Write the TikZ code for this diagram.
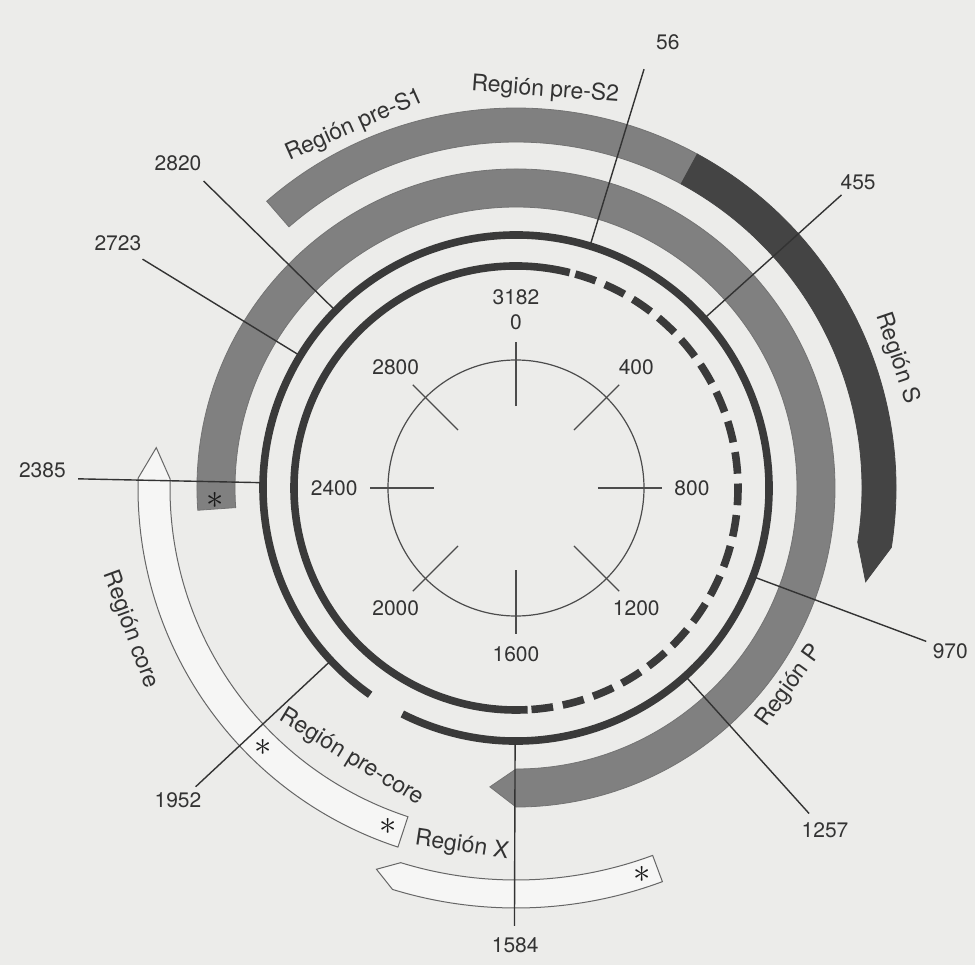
\documentclass[tikz,border=0pt]{standalone}
\usepackage{fontspec}
\setmainfont{TeX Gyre Heros}
\begin{document}
\begin{tikzpicture}[
    font=\fontsize{10.5}{12.5}\selectfont,
    strand/.style={line width=3.8pt,draw=strandline},
    thinring/.style={line width=0.6pt,draw=black!70},
    grayband/.style={fill=bandgray,draw=black!55,line width=0.4pt},
    darkband/.style={fill=banddark,draw=banddark,line width=0.4pt},
    openband/.style={fill=openfill,draw=black!60,line width=0.5pt},
    posline/.style={line width=0.7pt,draw=black!80},
    poslbl/.style={text=black!80,inner sep=1pt},
    ticklbl/.style={text=black!80,inner sep=1pt,align=center},
    reglbl/.style={text=black!80,inner sep=1pt,font=\fontsize{11.5}{13}\selectfont},
    astk/.style={font=\fontsize{18}{18}\selectfont,inner sep=0pt,text=black!90},
]
\definecolor{paper}{RGB}{236,236,234}   \definecolor{openfill}{RGB}{246,246,245}
\definecolor{bandgray}{RGB}{128,128,128} \definecolor{banddark}{RGB}{68,68,68}
\definecolor{strandline}{RGB}{58,58,58}

% page: centre of the rings is the origin, 1px of the scan = 0.5pt
\fill[paper] (-258pt,-238.5pt) rectangle (229.5pt,244pt);
\useasboundingbox (-258pt,-238.5pt) rectangle (229.5pt,244pt);

% ================= coding regions =================
% P: square start at the left, point at the bottom
\filldraw[grayband] (184:159.5pt) arc[start angle=184,end angle=-90,radius=159.5pt]
    -- (-95:150pt) -- (-90:140.5pt) arc[start angle=-90,end angle=184,radius=140.5pt] -- cycle;
% pre-S1 / pre-S2 (light) then S (dark, pointed)
\filldraw[grayband] (131:190pt) arc[start angle=131,end angle=61.5,radius=190pt]
    -- (61.5:173pt) arc[start angle=61.5,end angle=131,radius=173pt] -- cycle;
\filldraw[darkband] (61.5:190pt) arc[start angle=61.5,end angle=-9,radius=190pt]
    -- (-15:181pt) -- (-9:173pt) arc[start angle=-9,end angle=61.5,radius=173pt] -- cycle;
% pre-core / core
\filldraw[openband] (178.5:189pt) arc[start angle=178.5,end angle=251.8,radius=189pt]
    -- (251.8:173pt) arc[start angle=251.8,end angle=178.5,radius=173pt] -- (173.6:181pt) -- cycle;
% X
\filldraw[openband] (252.9:210pt) arc[start angle=252.9,end angle=290.4,radius=210pt]
    -- (290.4:196pt) arc[start angle=290.4,end angle=252.9,radius=196pt] -- (249.9:203pt) -- cycle;

% ================= the two strands =================
\draw[strand] (243.3:126.5pt) arc[start angle=243.3,end angle=594.8,radius=126.5pt];
\draw[strand] (76:111pt) arc[start angle=76,end angle=273,radius=111pt];
\draw[strand,dash pattern=on 10.86pt off 4.94pt] (-86:111pt) arc[start angle=-86,end angle=74.5,radius=111pt];

% ================= inner scale =================
\draw[thinring] (0,0) circle[radius=64pt];
\foreach \ang/\txt [evaluate=\ang as \anc using int(\ang+180)] in {90/{3182\\0},45/400,0/800,-45/1200,-90/1600,-135/2000,180/2400,135/2800}{
  \draw[thinring] (\ang:41pt) -- (\ang:73pt);
  \node[ticklbl,anchor=\anc] (tick\anc) at (\ang:78pt) {\txt};
}

% ================= positions on the genome =================
\foreach \ang/\num/\la/\lr in {73/56/71.2/235.6pt, 42/455/41.8/229.5pt, 135.5/2820/136.1/234.5pt,
    148.5/2723/148.4/233.7pt, 178.8/2385/177.8/237pt, 223/1952/222.7/230pt,
    269.8/1584/269.9/228.5pt, -48/1257/-47.9/230.5pt, -20.5/970/-20.6/232pt}{
  \coordinate (p\num) at (\ang:128pt);
  \coordinate (q\num) at (\ang:219pt);
  \draw[posline] (p\num) -- (q\num);
  \node[poslbl] (n\num) at (\la:\lr) {\num};
}

% ================= region names =================
\node[reglbl,rotate=24]    (rPreSone) at (114:198.5pt)  {Región pre-S1};
\node[reglbl,rotate=-4.2]  (rPreStwo) at (85.8:199.5pt) {Región pre-S2};
\node[reglbl,rotate=-71.2] (rS)       at (18.8:201.5pt) {Región S};
\node[reglbl,rotate=54.1]  (rP)       at (-35.9:169pt)  {Región P};
\node[reglbl,rotate=-69.8] (rCore)    at (200.2:205.5pt) {Región core};
\node[reglbl,rotate=-31.4] (rPreCore) at (238.6:158pt)  {Región pre-core};
\node[reglbl,rotate=-8.6]  (rX)       at (-98.6:181pt)  {Región X};

% stop codons
\node[astk] (aP)     at (182.3:150.5pt) {$\ast$};
\node[astk] (aCoreA) at (225.7:181pt)   {$\ast$};
\node[astk] (aCoreB) at (249.3:181pt)   {$\ast$};
\node[astk] (aX)     at (-71.9:203.5pt) {$\ast$};

\end{tikzpicture}
\end{document}
